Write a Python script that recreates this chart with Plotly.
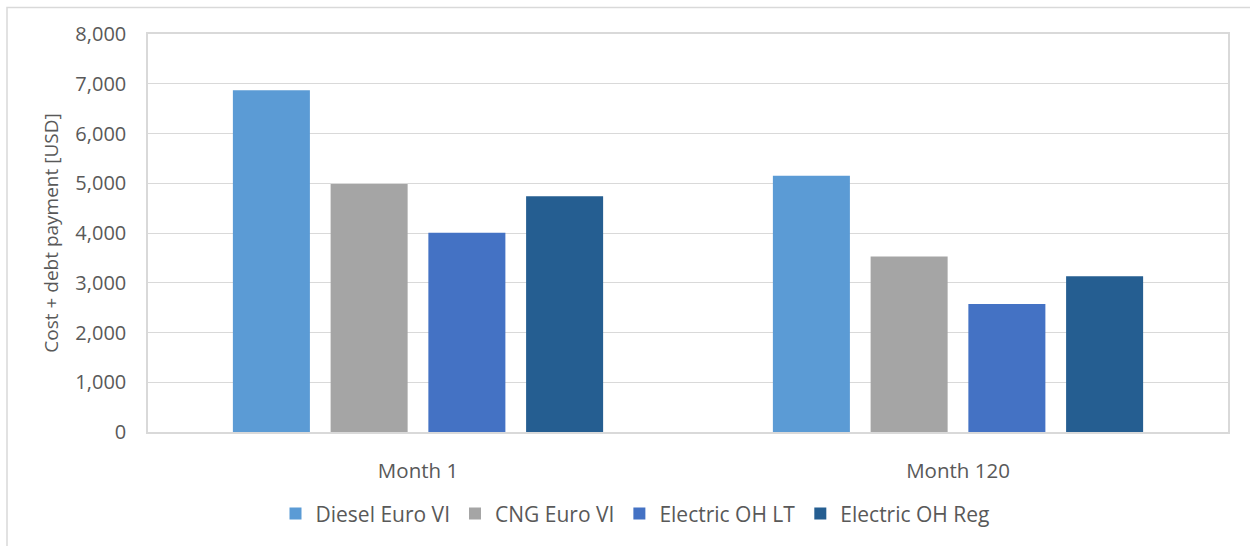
import plotly.graph_objects as go

categories = ["Month 1", "Month 120"]
series_names = ["Diesel Euro VI", "CNG Euro VI", "Electric OH LT", "Electric OH Reg"]
diesel = [6870, 5150]
cng = [4985, 3530]
electric_lt = [4005, 2575]
electric_reg = [4740, 3130]
colors = ["#5B9BD5", "#A5A5A5", "#4472C4", "#255E91"]

values = [diesel, cng, electric_lt, electric_reg]

W, H = 1250, 546
L, R, T, B = 148, 1228, 33.5, 432.5

fig = go.Figure()
for name, vals, col in zip(series_names, values, colors):
    fig.add_trace(go.Bar(x=categories, y=vals, name=name,
                         marker=dict(color=col, line=dict(width=0))))

font_family = "Open Sans"
txt = "#595959"
grid = "#D9D9D9"

def px2x(px):
    return (px - L) / (R - L)

def py2y(py):
    return (B - py) / (B - T)

fig.update_layout(
    width=W, height=H,
    margin=dict(l=L, r=W - R, t=T, b=H - B, pad=0),
    paper_bgcolor="white", plot_bgcolor="white",
    font=dict(family=font_family, color=txt, size=20),
    barmode="group", bargap=0.276, bargroupgap=0.212,
    showlegend=True,
    legend=dict(orientation="h", x=px2x(635), xanchor="center",
                y=py2y(514.5), yanchor="middle",
                font=dict(size=21, color=txt), itemwidth=30,
                bgcolor="rgba(0,0,0,0)"),
    shapes=[dict(type="rect", xref="paper", yref="paper",
                 x0=px2x(7), x1=px2x(1262), y0=py2y(560), y1=py2y(7),
                 line=dict(color=grid, width=1.5), layer="below")],
)
fig.update_yaxes(range=[0, 8000], dtick=1000, tickformat=",",
                 showgrid=True, gridcolor=grid, gridwidth=1,
                 showline=True, linecolor=grid, linewidth=1.5, mirror=True,
                 zeroline=False, ticks="", ticklabelstandoff=16,
                 tickfont=dict(size=20, color=txt),
                 title=dict(text="Cost + debt payment [USD]", standoff=12,
                            font=dict(size=19, color=txt)),
                 automargin=False)
fig.update_xaxes(showline=True, linecolor=grid, linewidth=1.5, mirror=True,
                 ticks="", ticklabelstandoff=20,
                 tickfont=dict(size=20.5, color=txt), automargin=False)

fig.write_html("out.html",
               config={"displayModeBar": False},
               post_script="document.body.style.margin='0px';document.body.style.overflow='hidden';")
